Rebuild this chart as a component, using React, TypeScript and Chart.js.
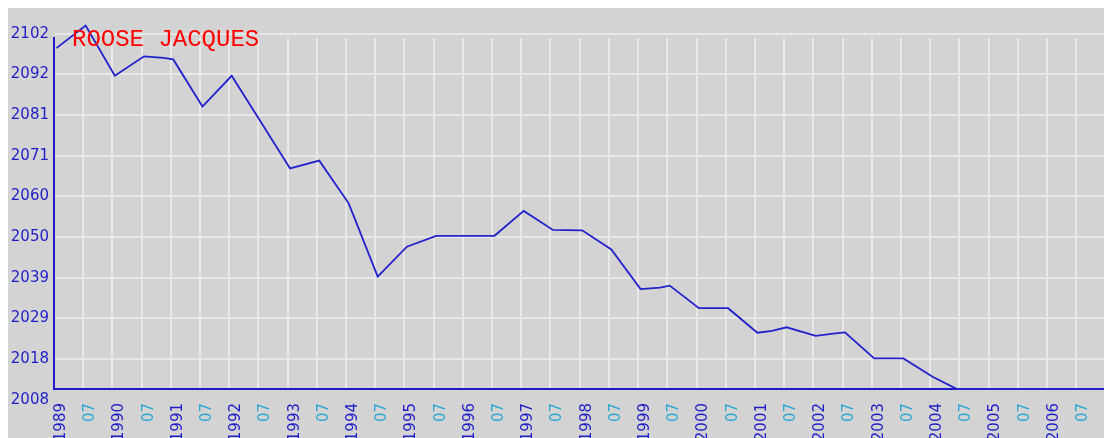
import React, { useEffect, useRef } from 'react';
import { Chart, registerables } from 'chart.js';

Chart.register(...registerables);

const TITLE = 'ROOSE JACQUES';

const DATES = ['1989-01','1989-07','1990-01','1990-07','1990-11','1991-01','1991-07','1992-01','1992-07','1993-01','1993-07','1994-01','1994-02','1994-07','1995-01','1995-07','1996-01','1996-07','1997-01','1997-07','1998-01','1998-07','1999-01','1999-05','1999-07','2000-01','2000-07','2001-01','2001-04','2001-07','2002-01','2002-05','2002-07','2003-01','2003-07','2004-01','2004-06','2004-07','2005-01','2005-07','2006-01','2006-07','2007-01','2007-07'];
const VALUES = [2098.3,2104.1,2091.2,2096.2,2095.8,2095.4,2083.3,2091.2,2079.3,2067.4,2069.4,2058.5,2055.4,2039.6,2047.3,2050.1,2050.1,2050.1,2056.5,2051.6,2051.5,2046.6,2036.4,2036.8,2037.3,2031.5,2031.5,2025.2,2025.7,2026.6,2024.4,2025.05,2025.3,2018.6,2018.6,2013.9,2010.75,2010.75,2010.75,2010.75,2010.75,2010.75,2010.75,2010.75];

const X_TICK_LABELS = ['1989','07','1990','07','1991','07','1992','07','1993','07','1994','07','1995','07','1996','07','1997','07','1998','07','1999','07','2000','07','2001','07','2002','07','2003','07','2004','07','2005','07','2006','07','2007'];
const X_START = 1989;

const Y_TICK_LABELS = ['2008','2018','2029','2039','2050','2060','2071','2081','2092','2102'];
const Y_TICK_FIRST = 2008;
const Y_TICK_LAST = 2102;

const Y_MIN = 2010.75;
const Y_MAX = 2100.9;
const X_MAX = 2007.25;

const BLUE = '#1e1ec8';
const LIGHT_BLUE = '#2aa6d4';

function toYear(d: string): number {
  const [y, m] = d.split('-').map(Number);
  return y + (m - 0.5) / 12;
}

export default function App() {
  const ref = useRef<HTMLCanvasElement>(null);
  useEffect(() => {
    if (!ref.current) return;
    const points = DATES.map((d, i) => ({ x: toYear(d), y: VALUES[i] }));
    const yStep = (Y_TICK_LAST - Y_TICK_FIRST) / (Y_TICK_LABELS.length - 1);
    const chart = new Chart(ref.current, {
      type: 'line',
      data: {
        datasets: [
          {
            data: points,
            borderColor: '#2222cc',
            borderWidth: 1.8,
            pointRadius: 0,
            tension: 0,
            clip: false as any,
          },
        ],
      },
      options: {
        animation: false,
        responsive: false,
        maintainAspectRatio: false,
        layout: { padding: { left: 0, top: 30, right: 20, bottom: 0 } },
        plugins: { legend: { display: false }, tooltip: { enabled: false }, title: { display: false } },
        scales: {
          x: {
            type: 'linear',
            min: X_START,
            max: X_MAX,
            bounds: 'data',
            afterBuildTicks: (s: any) => {
              s.ticks = X_TICK_LABELS.map((_, i) => ({ value: X_START + i * 0.5 }));
            },
            afterFit: (s: any) => { s.height = 49; },
            grid: { color: '#e8e8e8', lineWidth: 2, drawTicks: false },
            border: { color: BLUE, width: 2 },
            ticks: {
              autoSkip: false,
              maxRotation: 90,
              minRotation: 90,
              padding: 14,
              labelOffset: 7,
              font: { family: 'DejaVu Sans', size: 15 },
              color: (c: any) => (c.index % 2 === 0 ? BLUE : LIGHT_BLUE),
              callback: (_v: any, i: number) => X_TICK_LABELS[i],
            },
          },
          y: {
            type: 'linear',
            min: Y_MIN,
            max: Y_MAX,
            bounds: 'data',
            afterBuildTicks: (s: any) => {
              s.ticks = Y_TICK_LABELS.map((_, i) => ({ value: Y_TICK_FIRST + i * yStep }));
            },
            afterFit: (s: any) => { s.width = 46; },
            grid: {
              color: (c: any) => (c.index === 0 ? 'rgba(0,0,0,0)' : '#e8e8e8'),
              lineWidth: 2,
              drawTicks: false,
            },
            border: { color: BLUE, width: 2 },
            ticks: {
              autoSkip: false,
              padding: 5,
              font: { family: 'DejaVu Sans', size: 15 },
              color: BLUE,
              callback: (_v: any, i: number) => Y_TICK_LABELS[i],
            },
          },
        },
      },
      plugins: [
        {
          id: 'bg',
          beforeDraw: (c: any) => {
            const ctx = c.ctx;
            ctx.save();
            ctx.fillStyle = '#d3d3d3';
            ctx.fillRect(0, 0, c.width, c.height);
            ctx.restore();
          },
          afterDraw: (c: any) => {
            const ctx = c.ctx;
            ctx.save();
            ctx.font = '24px "Liberation Mono"';
            ctx.fillStyle = '#ff0000';
            ctx.textBaseline = 'alphabetic';
            ctx.fillText(TITLE, 64, 38);
            ctx.restore();
          },
        },
      ],
    });
    return () => chart.destroy();
  }, []);
  return (
    <div style={{ position: 'fixed', left: 8, top: 8, width: 1132, height: 430, overflow: 'hidden' }}>
      <canvas ref={ref} width={1132} height={430} style={{ width: 1132, height: 430, display: 'block' }} />
    </div>
  );
}
